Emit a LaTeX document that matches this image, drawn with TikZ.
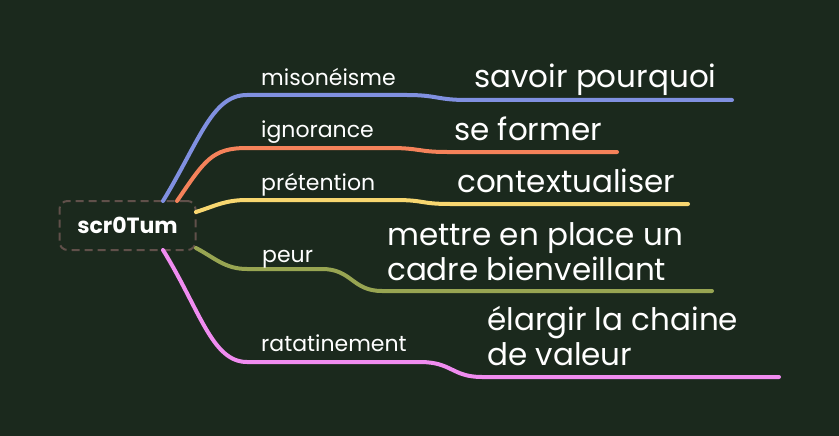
\documentclass[tikz,border=0pt]{standalone}
\usepackage{fontspec}
\setmainfont{Poppins}
\definecolor{bg}{RGB}{27,41,29}
\definecolor{cblue}{RGB}{128,144,224}
\definecolor{corange}{RGB}{245,130,90}
\definecolor{cyellow}{RGB}{248,215,112}
\definecolor{colive}{RGB}{152,165,82}
\definecolor{cpink}{RGB}{240,140,240}
\definecolor{cborder}{RGB}{96,80,74}
\tikzset{
  branch/.style={line width=4pt, line cap=round},
  lab/.style={anchor=base west, inner sep=0pt, text=white, font=\fontsize{22}{26}\selectfont},
  sub/.style={anchor=base west, inner sep=0pt, text=white, font=\fontsize{31}{35}\selectfont, align=left},
  root/.style={draw=cborder, dash pattern=on 8pt off 5pt, line width=2pt, rounded corners=8pt, minimum width=136pt, minimum height=49pt, text=white, font=\fontsize{22}{26}\selectfont\bfseries}
}
\begin{document}
\begin{tikzpicture}[x=1pt,y=-1pt]
\fill[bg] (0,0) rectangle (839,436);
\useasboundingbox (0,0) rectangle (839,436);
\node[root] (root) at (127.5,225.5) {scr0Tum};
% anchors on root
\coordinate (r1) at (163,201);
\coordinate (r2) at (177,201);
\coordinate (r3) at (196,212);
\coordinate (r4) at (196,248);
\coordinate (r5) at (163,250);
% branch points
\coordinate (b1s) at (247,95);  \coordinate (b1e) at (407,95);  \coordinate (s1s) at (467,100); \coordinate (s1e) at (732,100);
\coordinate (b2s) at (247,148); \coordinate (b2e) at (390,148); \coordinate (s2s) at (447,152); \coordinate (s2e) at (617,152);
\coordinate (b3s) at (247,200); \coordinate (b3e) at (395,200); \coordinate (s3s) at (450,204); \coordinate (s3e) at (688,204);
\coordinate (b4s) at (247,269); \coordinate (b4e) at (322,269); \coordinate (s4s) at (382,291); \coordinate (s4e) at (712,291);
\coordinate (b5s) at (247,362); \coordinate (b5e) at (420,362); \coordinate (s5s) at (482,377); \coordinate (s5e) at (779,377);
% branches
\draw[branch, cblue] (r1) .. controls (200,140) and (212,95) .. (b1s) -- (b1e) .. controls (437,95) and (437,100) .. (s1s) -- (s1e);
\draw[branch, corange] (r2) .. controls (205,160) and (212,148) .. (b2s) -- (b2e) .. controls (420,148) and (418,152) .. (s2s) -- (s2e);
\draw[branch, cyellow] (r3) .. controls (215,206) and (225,200) .. (b3s) -- (b3e) .. controls (425,200) and (420,204) .. (s3s) -- (s3e);
\draw[branch, colive] (r4) .. controls (215,258) and (225,269) .. (b4s) -- (b4e) .. controls (352,269) and (352,291) .. (s4s) -- (s4e);
\draw[branch, cpink] (r5) .. controls (200,310) and (212,362) .. (b5s) -- (b5e) .. controls (452,362) and (452,377) .. (s5s) -- (s5e);
% labels
\node[lab] (l1) at (261,86) {misonéisme};
\node[lab] (l2) at (261,138) {ignorance};
\node[lab] (l3) at (261,190) {prétention};
\node[lab] (l4) at (262,262) {peur};
\node[lab] (l5) at (261,351) {ratatinement};
\node[sub] (t1) at (474,88) {savoir pourquoi};
\node[sub] (t2) at (454,140) {se former};
\node[sub] (t3) at (457,192) {contextualiser};
\node[sub] (t4) at (387,280) {mettre en place un\\cadre bienveillant};
\node[sub] (t5) at (487,365) {élargir la chaine\\de valeur};
\end{tikzpicture}
\end{document}
